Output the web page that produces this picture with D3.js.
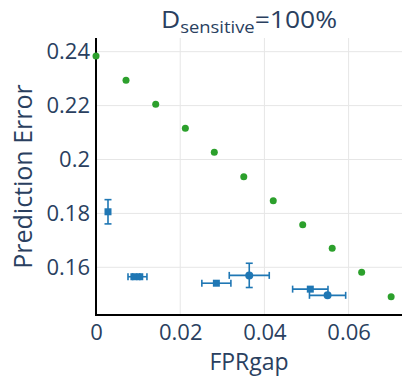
<!DOCTYPE html>
<html>
<head>
<meta charset="utf-8">
<script src="https://cdn.jsdelivr.net/npm/d3@7"></script>
<style>
  body { margin: 0; background: #fff; }
  text { font-family: "Open Sans", Arial, sans-serif; fill: #2a3f5f; }
</style>
</head>
<body>
<div id="chart"></div>
<script>
// green sweep (no error bars)
var sweepX = [0, 0.00713, 0.01418, 0.02122, 0.0281, 0.0351, 0.0421, 0.0491, 0.0561, 0.0631, 0.0701]
var sweepY = [0.2384, 0.2294, 0.2205, 0.2116, 0.2027, 0.1936, 0.1847, 0.1758, 0.1671, 0.1582, 0.1491]

// blue points with error bars
var ptX    = [0.00285, 0.0090, 0.0104, 0.02859, 0.0364, 0.0509, 0.0550]
var ptY    = [0.1806, 0.1565, 0.1565, 0.1541, 0.1570, 0.1519, 0.1496]
var ptErrX = [0.0002, 0.0014, 0.0017, 0.00345, 0.00475, 0.0042, 0.0043]
var ptErrY = [0.0045, 0.0003, 0.0003, 0.0003, 0.0045, 0.0003, 0.0003]
var ptShape = ["square", "square", "square", "square", "circle", "square", "circle"]

var xTicks = [0, 0.02, 0.04, 0.06]
var yTicks = [0.16, 0.18, 0.2, 0.22, 0.24]

var W = 402, H = 377
var margin = {top: 38, right: 0, bottom: 62, left: 96}
var width = W - margin.left - margin.right,
    height = H - margin.top - margin.bottom

var svg = d3.select("#chart")
  .append("svg")
    .attr("width", W)
    .attr("height", H)

var g = svg.append("g")
  .attr("transform", "translate(" + margin.left + "," + margin.top + ")")

var xScale = d3.scaleLinear()
  .domain([0, 0.07268])
  .range([0, width])

var yScale = d3.scaleLinear()
  .domain([0.14230, 0.24508])
  .range([height, 0])

// grid
g.selectAll(".gx")
  .data(xTicks.slice(1))
  .enter()
  .append("line")
  .attr("x1", d => xScale(d))
  .attr("x2", d => xScale(d))
  .attr("y1", 0)
  .attr("y2", height)
  .attr("stroke", "#e6e6e6")
  .attr("stroke-width", 1)

g.selectAll(".gy")
  .data(yTicks)
  .enter()
  .append("line")
  .attr("x1", 0)
  .attr("x2", width)
  .attr("y1", d => yScale(d))
  .attr("y2", d => yScale(d))
  .attr("stroke", "#e6e6e6")
  .attr("stroke-width", 1)

// axes
var yAxis = g.append("g")
  .call(d3.axisLeft(yScale)
    .tickValues(yTicks)
    .tickSize(0)
    .tickPadding(6)
    .tickFormat(d3.format("~g")))
yAxis.select(".domain").remove()
yAxis.selectAll("text")
  .style("font-size", "22px")
  .attr("fill", "#2a3f5f")
  .style("font-family", "'Open Sans', Arial, sans-serif")

var xAxis = g.append("g")
  .attr("transform", "translate(0," + height + ")")
  .call(d3.axisBottom(xScale)
    .tickValues(xTicks)
    .tickSize(0)
    .tickPadding(9)
    .tickFormat(d3.format("~g")))
xAxis.select(".domain").remove()
xAxis.selectAll("text")
  .style("font-size", "22px")
  .attr("fill", "#2a3f5f")
  .style("font-family", "'Open Sans', Arial, sans-serif")

g.append("line")
  .attr("x1", 0).attr("x2", 0)
  .attr("y1", 0).attr("y2", height + 1)
  .attr("stroke", "#000")
  .attr("stroke-width", 2)

g.append("line")
  .attr("x1", -1).attr("x2", width)
  .attr("y1", height).attr("y2", height)
  .attr("stroke", "#000")
  .attr("stroke-width", 2)

// blue error bars
var blue = "#1f77b4", cap = 3.5
var pts = ptX.map((x, i) => ({x: x, y: ptY[i], ex: ptErrX[i], ey: ptErrY[i], shape: ptShape[i]}))

var eb = g.append("g")
  .attr("stroke", blue)
  .attr("stroke-width", 1.6)

pts.forEach(function(d) {
  var cx = xScale(d.x), cy = yScale(d.y)
  var x0 = xScale(d.x - d.ex), x1 = xScale(d.x + d.ex)
  var y0 = yScale(d.y - d.ey), y1 = yScale(d.y + d.ey)
  if (x1 - x0 > 3) {
    eb.append("line").attr("x1", x0).attr("x2", x1).attr("y1", cy).attr("y2", cy)
    eb.append("line").attr("x1", x0).attr("x2", x0).attr("y1", cy - cap).attr("y2", cy + cap)
    eb.append("line").attr("x1", x1).attr("x2", x1).attr("y1", cy - cap).attr("y2", cy + cap)
  }
  if (y0 - y1 > 3) {
    eb.append("line").attr("x1", cx).attr("x2", cx).attr("y1", y0).attr("y2", y1)
    eb.append("line").attr("x1", cx - cap).attr("x2", cx + cap).attr("y1", y0).attr("y2", y0)
    eb.append("line").attr("x1", cx - cap).attr("x2", cx + cap).attr("y1", y1).attr("y2", y1)
  }
})

g.selectAll(".sq")
  .data(pts.filter(d => d.shape == "square"))
  .enter()
  .append("rect")
  .attr("x", d => xScale(d.x) - 3.5)
  .attr("y", d => yScale(d.y) - 3.5)
  .attr("width", 7)
  .attr("height", 7)
  .attr("fill", blue)

g.selectAll(".ci")
  .data(pts.filter(d => d.shape == "circle"))
  .enter()
  .append("circle")
  .attr("cx", d => xScale(d.x))
  .attr("cy", d => yScale(d.y))
  .attr("r", 4)
  .attr("fill", blue)

// green sweep
g.selectAll(".sw")
  .data(sweepX.map((x, i) => ({x: x, y: sweepY[i]})))
  .enter()
  .append("circle")
  .attr("cx", d => xScale(d.x))
  .attr("cy", d => yScale(d.y))
  .attr("r", 3.5)
  .attr("fill", "#2ca02c")

// titles
var title = svg.append("text")
  .attr("transform", "translate(" + (margin.left + width / 2) + ",28) scale(1.15,1)")
  .attr("text-anchor", "middle")
  .style("font-size", "23px")
title.append("tspan").text("D")
title.append("tspan").text("sensitive")
  .style("font-size", "16px")
  .attr("dy", 5)
title.append("tspan").text("=100%")
  .attr("dy", -5)

svg.append("text")
  .attr("x", margin.left + width / 2)
  .attr("y", 370)
  .attr("text-anchor", "middle")
  .style("font-size", "23px")
  .text("FPRgap")

svg.append("text")
  .attr("transform", "translate(32," + (margin.top + height / 2) + ") rotate(-90)")
  .attr("text-anchor", "middle")
  .style("font-size", "25px")
  .text("Prediction Error")
</script>
</body>
</html>
